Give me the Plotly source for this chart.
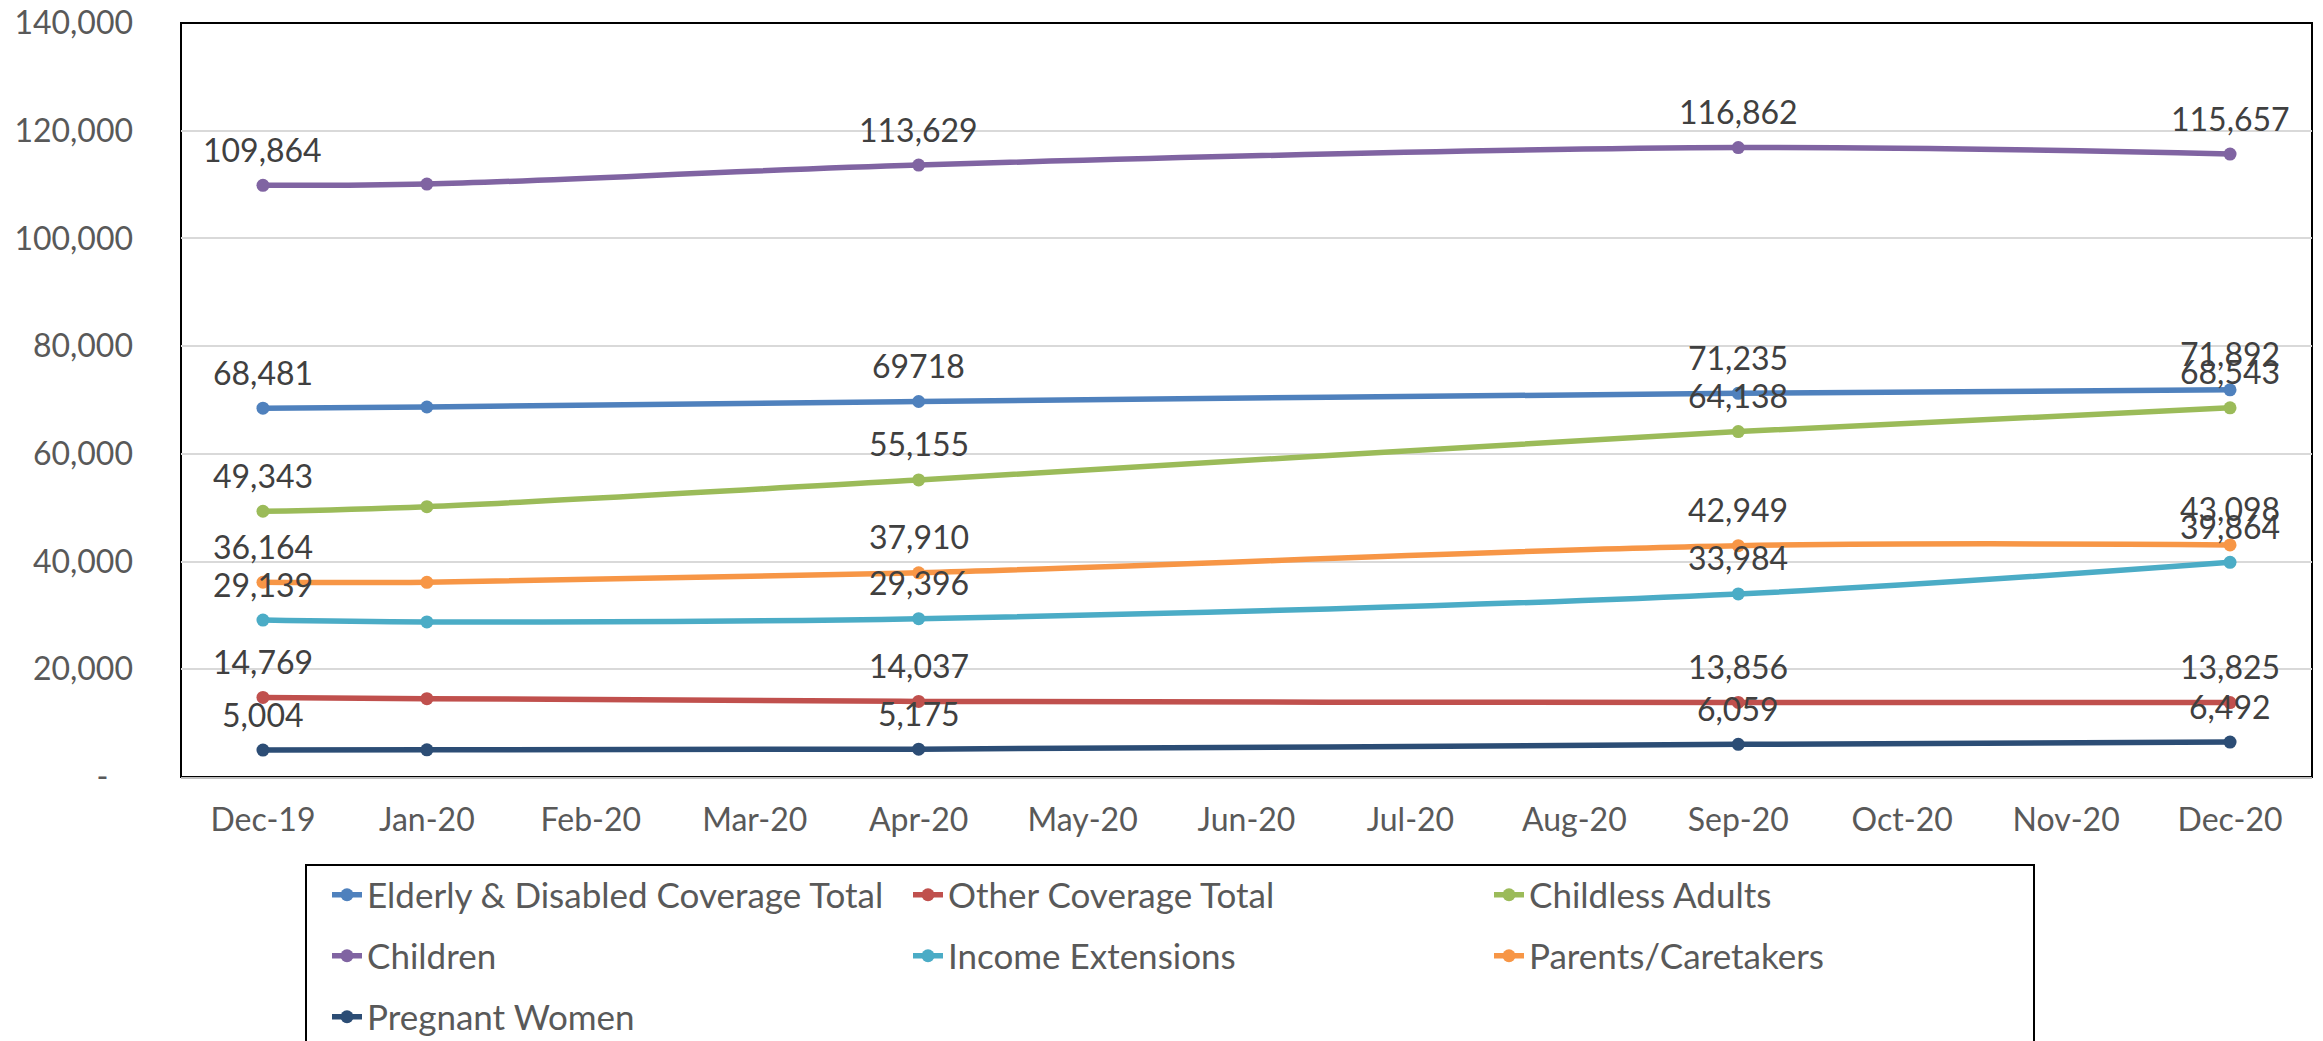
import plotly.graph_objects as go

months = ["Dec-19", "Jan-20", "Feb-20", "Mar-20", "Apr-20", "May-20", "Jun-20",
          "Jul-20", "Aug-20", "Sep-20", "Oct-20", "Nov-20", "Dec-20"]
obs_months = ["Dec-19", "Jan-20", "Apr-20", "Sep-20", "Dec-20"]

series_names = ["Elderly & Disabled Coverage Total", "Other Coverage Total", "Childless Adults",
                "Children", "Income Extensions", "Parents/Caretakers", "Pregnant Women"]

elderly = [68481, 68700, 69718, 71235, 71892]
other = [14769, 14550, 14037, 13856, 13825]
childless = [49343, 50200, 55155, 64138, 68543]
children = [109864, 110100, 113629, 116862, 115657]
income = [29139, 28800, 29396, 33984, 39864]
parents = [36164, 36150, 37910, 42949, 43098]
pregnant = [5004, 5050, 5175, 6059, 6492]

elderly_lbl = ["68,481", "", "69718", "71,235", "71,892"]
other_lbl = ["14,769", "", "14,037", "13,856", "13,825"]
childless_lbl = ["49,343", "", "55,155", "64,138", "68,543"]
children_lbl = ["109,864", "", "113,629", "116,862", "115,657"]
income_lbl = ["29,139", "", "29,396", "33,984", "39,864"]
parents_lbl = ["36,164", "", "37,910", "42,949", "43,098"]
pregnant_lbl = ["5,004", "", "5,175", "6,059", "6,492"]

colors = ["#4F81BD", "#C0504D", "#9BBB59", "#8064A2", "#4BACC6", "#F79646", "#2C4D75"]

y_tickvals = [0, 20000, 40000, 60000, 80000, 100000, 120000, 140000]
y_ticktext = ["-\u00a0\u00a0\u00a0", "20,000", "40,000", "60,000", "80,000", "100,000", "120,000", "140,000"]

values = [elderly, other, childless, children, income, parents, pregnant]
labels = [elderly_lbl, other_lbl, childless_lbl, children_lbl, income_lbl, parents_lbl, pregnant_lbl]
legend_ids = ["legend", "legend", "legend", "legend2", "legend2", "legend2", "legend3"]

FONT = "Lato, Open Sans, sans-serif"

# page body has an 8px margin; figure sized to fit the 2323x1041 window
OFF = 8
W, H = 2323 - OFF, 1041 - OFF
L, R, T, B = 181 - OFF, 11, 23 - OFF, 264
PW, PH = W - L - R, H - T - B


def px_x(x):
    return (x - OFF - L) / PW


def px_y(y):
    return (H - B - (y - OFF)) / PH


fig = go.Figure()
annotations = []
for name, vals, lbls, col, lg in zip(series_names, values, labels, colors, legend_ids):
    fig.add_trace(go.Scatter(
        x=obs_months, y=vals, name=name, mode="lines+markers",
        line=dict(color=col, width=5.5, shape="spline"),
        marker=dict(color=col, size=13),
        legend=lg,
    ))
    for xm, v, t in zip(obs_months, vals, lbls):
        if t:
            annotations.append(dict(
                x=xm, y=v, text=t, showarrow=False, xref="x", yref="y",
                yshift=36, xanchor="center", yanchor="middle",
                font=dict(family=FONT, size=32, color="#404040"),
            ))

legend_common = dict(
    orientation="h", xanchor="left", yanchor="middle",
    font=dict(family=FONT, size=35, color="#595959"),
    entrywidth=536, entrywidthmode="pixels",
    bgcolor="rgba(0,0,0,0)", borderwidth=0,
)
lx = px_x(327)

fig.update_layout(
    width=W, height=H,
    margin=dict(l=L, r=R, t=T, b=B, autoexpand=False),
    paper_bgcolor="white", plot_bgcolor="white",
    font=dict(family=FONT, size=32, color="#595959"),
    showlegend=True,
    legend=dict(x=lx, y=px_y(895), **legend_common),
    legend2=dict(x=lx, y=px_y(956), **legend_common),
    legend3=dict(x=lx, y=px_y(1017), **legend_common),
    annotations=annotations,
    xaxis=dict(
        type="category", categoryorder="array", categoryarray=months,
        range=[-0.5, len(months) - 0.5],
        showgrid=False, showline=True, linecolor="#BFBFBF", linewidth=2,
        ticks="", ticklabelstandoff=14, ticklabeloverflow="allow",
        tickfont=dict(family=FONT, size=32, color="#595959"),
        zeroline=False,
    ),
    yaxis=dict(
        range=[0, 140000], tickvals=y_tickvals, ticktext=y_ticktext,
        showgrid=True, gridcolor="#D9D9D9", gridwidth=2,
        showline=False, zeroline=False, ticks="", ticklabelstandoff=47,
        ticklabeloverflow="allow",
        tickfont=dict(family=FONT, size=32, color="#595959"),
    ),
    shapes=[
        dict(type="rect", xref="paper", yref="paper", x0=0, x1=1, y0=0, y1=1,
             line=dict(color="black", width=2), layer="below", fillcolor="rgba(0,0,0,0)"),
        dict(type="rect", xref="paper", yref="paper",
             x0=px_x(306), x1=px_x(2034), y0=px_y(865), y1=px_y(1060),
             line=dict(color="black", width=2), fillcolor="rgba(0,0,0,0)"),
    ],
)

fig.write_html("out.html")
